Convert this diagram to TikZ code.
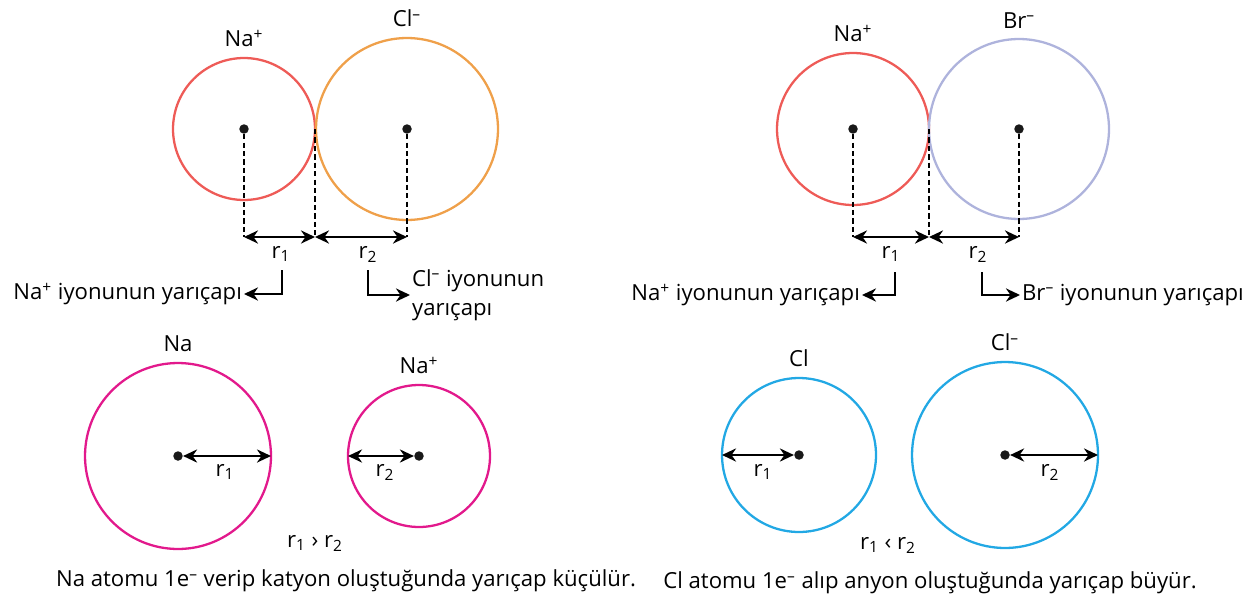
\documentclass[tikz,border=0pt]{standalone}
\usepackage{fontspec}
\setmainfont{Open Sans}
\usepackage{xcolor}
\usepackage{tikz}
\usetikzlibrary{arrows.meta,positioning,calc}
\definecolor{nared}{HTML}{EE5B57}
\definecolor{clorange}{HTML}{EFA04A}
\definecolor{brlilac}{HTML}{AEB3DC}
\definecolor{namagenta}{HTML}{E2198C}
\definecolor{clcyan}{HTML}{22A8E4}

\begin{document}
\begin{tikzpicture}[
			x=0.02cm,
			y=-0.02cm,
			ion/.style={circle,draw,line width=1.3pt,inner sep=0pt,outer sep=0pt},
			dot/.style={circle,fill=black!90,inner sep=0pt,minimum size=5.4pt},
			lbl/.style={font=\fontsize{12.6}{16.5}\selectfont,inner sep=2pt},
			dim/.style={{Stealth[length=8pt,width=7.5pt]}-{Stealth[length=8pt,width=7.5pt]},line width=1.2pt},
			guide/.style={line width=1.3pt,dash pattern=on 3pt off 1.8pt},
			bent/.style={-{Stealth[length=8pt,width=7.5pt]},line width=1.2pt}
			]
			
			\useasboundingbox (0,0) rectangle (1253,605);
			
			%------------------------------
			% Na+ and Cl- side by side
			%------------------------------
			\node[ion,draw=nared,minimum size=2.84cm] (naA) at (244,129) {};
			\node[ion,draw=clorange,minimum size=3.64cm] (clA) at (407,129) {};
			\node[lbl,above=4pt of naA] (naAlbl) {Na\textsuperscript{+}};
			\node[lbl,above=4pt of clA] (clAlbl) {Cl\textsuperscript{–}};
			\node[dot] (naAdot) at (naA.center) {};
			\node[dot] (clAdot) at (clA.center) {};
			
			\coordinate (naAbase) at (244,237);
			\coordinate (midAbase) at (naA.east |- naAbase);
			\coordinate (clAbase) at (407,237);
			\draw[guide] (naAdot) -- (naAbase);
			\draw[guide] (naA.east) -- (midAbase);
			\draw[guide] (clAdot) -- (clAbase);
			\draw[dim] (naAbase) -- (midAbase);
			\draw[dim] (midAbase) -- (clAbase);
			\node[lbl] (r1A) at (281,254) {r\textsubscript{1}};
			\node[lbl] (r2A) at (368,254) {r\textsubscript{2}};
			
			\node[lbl,anchor=east,inner sep=1pt] (naAtxt) at (244,294) {Na\textsuperscript{+} iyonunun yarıçapı};
			\node[lbl,anchor=west,align=left,inner sep=1pt] (clAtxt) at (410,295) {Cl\textsuperscript{–} iyonunun\\yarıçapı};
			\coordinate (naAbend) at (282,270);
			\coordinate (clAbend) at (368,270);
			\draw[bent] (naAbend) |- (naAtxt.east);
			\draw[bent] (clAbend) |- (clAtxt.west);
			
			%------------------------------
			% Na+ and Br- side by side
			%------------------------------
			\node[ion,draw=nared,minimum size=3.04cm] (naB) at (853,129) {};
			\node[ion,draw=brlilac,minimum size=3.6cm] (brB) at (1019,129) {};
			\node[lbl,above=4pt of naB] (naBlbl) {Na\textsuperscript{+}};
			\node[lbl,above=4pt of brB] (brBlbl) {Br\textsuperscript{–}};
			\node[dot] (naBdot) at (naB.center) {};
			\node[dot] (brBdot) at (brB.center) {};
			
			\coordinate (naBbase) at (853,237);
			\coordinate (midBbase) at (naB.east |- naBbase);
			\coordinate (brBbase) at (1019,237);
			\draw[guide] (naBdot) -- (naBbase);
			\draw[guide] (naB.east) -- (midBbase);
			\draw[guide] (brBdot) -- (brBbase);
			\draw[dim] (naBbase) -- (midBbase);
			\draw[dim] (midBbase) -- (brBbase);
			\node[lbl] (r1B) at (891,254) {r\textsubscript{1}};
			\node[lbl] (r2B) at (978,254) {r\textsubscript{2}};
			
			\node[lbl,anchor=east,inner sep=1pt] (naBtxt) at (862,295) {Na\textsuperscript{+} iyonunun yarıçapı};
			\node[lbl,anchor=west,inner sep=1pt] (brBtxt) at (1020,295) {Br\textsuperscript{–} iyonunun yarıçapı};
			\coordinate (naBbend) at (895,272);
			\coordinate (brBbend) at (982,272);
			\draw[bent] (naBbend) |- (naBtxt.east);
			\draw[bent] (brBbend) |- (brBtxt.west);
			
			%------------------------------
			% Na atom and Na+ ion
			%------------------------------
			\node[ion,draw=namagenta,minimum size=3.72cm] (naC) at (178,456) {};
			\node[ion,draw=namagenta,minimum size=2.84cm] (naD) at (419,456) {};
			\node[lbl,above=4pt of naC] (naClbl) {Na};
			\node[lbl,above=4pt of naD] (naDlbl) {Na\textsuperscript{+}};
			\node[dot] (naCdot) at (naC.center) {};
			\node[dot] (naDdot) at (naD.center) {};
			\draw[dim] (naCdot) -- (naC.east);
			\draw[dim] (naD.west) -- (naDdot);
			\node[lbl] (r1C) at (225,472) {r\textsubscript{1}};
			\node[lbl] (r2D) at (385,472) {r\textsubscript{2}};
			\node[lbl] (cmpL) at (315,543) {r\textsubscript{1} › r\textsubscript{2}};
			\node[lbl] (capL) at (346,581) {Na atomu 1e\textsuperscript{–} verip katyon oluştuğunda yarıçap küçülür.};
			
			%------------------------------
			% Cl atom and Cl- ion
			%------------------------------
			\node[ion,draw=clcyan,minimum size=3.08cm] (clC) at (799,455) {};
			\node[ion,draw=clcyan,minimum size=3.72cm] (clD) at (1005,455) {};
			\node[lbl,above=4pt of clC] (clClbl) {Cl};
			\node[lbl,above=4pt of clD] (clDlbl) {Cl\textsuperscript{–}};
			\node[dot] (clCdot) at (clC.center) {};
			\node[dot] (clDdot) at (clD.center) {};
			\draw[dim] (clC.west) -- (clCdot);
			\draw[dim] (clDdot) -- (clD.east);
			\node[lbl] (r1E) at (763,472) {r\textsubscript{1}};
			\node[lbl] (r2F) at (1050,472) {r\textsubscript{2}};
			\node[lbl] (cmpR) at (888,545) {r\textsubscript{1} ‹ r\textsubscript{2}};
			\node[lbl] (capR) at (930,583) {Cl atomu 1e\textsuperscript{–} alıp anyon oluştuğunda yarıçap büyür.};
		\end{tikzpicture}
\end{document}
